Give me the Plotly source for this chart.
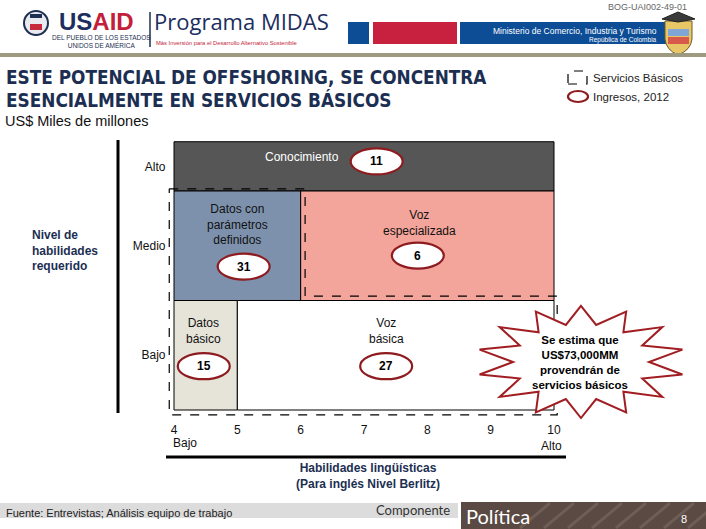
import numpy as np
import plotly.graph_objects as go

W, H = 706, 529

# ---------------- data ----------------
segments = ["Conocimiento", "Datos con<br>parámetros<br>definidos", "Voz<br>especializada",
            "Datos<br>básico", "Voz<br>básica"]
ingresos_2012 = [11, 31, 6, 15, 27]
lang_start = [4, 4, 6, 4, 5]
lang_end = [10, 6, 10, 5, 10]
skill_level = ["Alto", "Medio", "Medio", "Bajo", "Bajo"]
skill_ticks = ["Bajo", "Medio", "Alto"]
lang_ticks = [4, 5, 6, 7, 8, 9, 10]

# ---------------- layout helpers ----------------
def PX(x):
    return x / W


def PY(y):
    return 1 - y / H


FONT = "Liberation Sans, Arial, sans-serif"
NAVY = "#1c2f52"
DARKRED = "#8e1b1f"

annotations = []
shapes = []


def ann(x, y, text, size, color="#111", xanchor="center", family=FONT, align="center",
        xref="paper", yref="paper", yanchor="middle", xshift=0):
    if xref == "paper":
        x = PX(x)
    if yref == "paper":
        y = PY(y)
    annotations.append(dict(x=x, y=y, xref=xref, yref=yref, text=text, showarrow=False,
                            xanchor=xanchor, yanchor=yanchor, align=align, xshift=xshift,
                            font=dict(family=family, size=size, color=color)))


def prect(x0, y0, x1, y1, fill, line=None, layer="above"):
    shapes.append(dict(type="rect", xref="paper", yref="paper", x0=PX(x0), x1=PX(x1),
                       y0=PY(y1), y1=PY(y0), fillcolor=fill, layer=layer,
                       line=line if line else dict(width=0)))


band = {"Bajo": (0.0, 1.0), "Medio": (1.0, 2.0), "Alto": (2.0, 2.45)}
fills = ["#565656", "#7d91ad", "#f4a59b", "#e6e4d9", "#ffffff"]
label_colors = ["white", "#111111", "#111111", "#111111", "#111111"]
# label / bubble anchors (data units)
label_xy = [(6.02, 2.31), (5.01, 1.69), (7.88, 1.71), (4.47, 0.72), (7.35, 0.72)]
bubble_xy = [(7.20, 2.27), (5.10, 1.31), (7.85, 1.41), (4.47, 0.40), (7.35, 0.40)]

# axis geometry (pixels per unit) so that x=4..10 spans 174..554 px, y=0..2.45 spans 410..142 px
PPX = 380 / 6.0
PPY = 109.5
XR = [3.85, 10.15]
YR = [-0.08, 2.47]

fig = go.Figure()

# cells
for i, seg in enumerate(segments):
    y0, y1 = band[skill_level[i]]
    x0, x1 = lang_start[i], lang_end[i]
    fig.add_trace(go.Scatter(
        x=[x0, x1, x1, x0, x0], y=[y0, y0, y1, y1, y0],
        mode="lines", fill="toself", fillcolor=fills[i],
        line=dict(color="black", width=1), hoverinfo="skip", showlegend=False))

# Servicios básicos outline (Medio 4-6 + Bajo 4-10), drawn slightly outside the cells
sx = [4 - 0.075, 6 + 0.07, 6 + 0.07, 10 + 0.05, 10 + 0.05, 4 - 0.075, 4 - 0.075]
sy = [2.02, 2.02, 1.04, 1.04, -0.045, -0.045, 2.02]
fig.add_trace(go.Scatter(x=sx, y=sy, mode="lines",
                         line=dict(color="black", width=1.2, dash="dash"),
                         hoverinfo="skip", showlegend=False))

# segment labels and revenue bubbles
for i, seg in enumerate(segments):
    lx, ly = label_xy[i]
    ann(lx, ly, seg, 12, label_colors[i], xref="x", yref="y")
    bx, by = bubble_xy[i]
    shapes.append(dict(type="circle", xref="x", yref="y", xsizemode="pixel", ysizemode="pixel",
                       xanchor=bx, yanchor=by, x0=-26, x1=26, y0=-13, y1=13,
                       line=dict(color=DARKRED, width=2.2), fillcolor="white", layer="above"))
    ann(bx, by, "<b>%d</b>" % ingresos_2012[i], 12, "black", xref="x", yref="y")

# axis lines
shapes.append(dict(type="line", xref="paper", yref="paper", x0=PX(118), x1=PX(118),
                   y0=PY(140), y1=PY(413), line=dict(color="black", width=3)))
shapes.append(dict(type="line", xref="paper", yref="paper", x0=PX(166), x1=PX(566),
                   y0=PY(457), y1=PY(457), line=dict(color="black", width=3)))

# axis annotations
ann(4, 443, "Bajo", 12, xref="x", xanchor="left", xshift=-3)
ann(10, 446, "Alto", 12, xref="x", xanchor="right", xshift=10)
ann(30, 250, "<b>Nivel de<br>habilidades<br>requerido</b>", 12, NAVY, xanchor="left", align="left")
ann(368, 476, "<b>Habilidades lingüísticas<br>(Para inglés Nivel Berlitz)</b>", 12, NAVY)

# starburst callout
cx, cy = 581, 362
n = 14
ang = np.linspace(-np.pi / 2, 3 * np.pi / 2, 2 * n, endpoint=False)
rx = np.where(np.arange(2 * n) % 2 == 0, 104, 68)
ry = np.where(np.arange(2 * n) % 2 == 0, 56, 38)
ptsx = cx + rx * np.cos(ang)
ptsy = cy + ry * np.sin(ang)
path = "M " + " L ".join("%.4f,%.4f" % (PX(a), PY(b)) for a, b in zip(ptsx, ptsy)) + " Z"
shapes.append(dict(type="path", xref="paper", yref="paper", path=path,
                   fillcolor="white", line=dict(color="#a11d22", width=2)))
ann(580, 362, "<b>Se estima que<br>US$73,000MM<br>provendrán de<br>servicios básicos</b>", 11.5, "black")

# ---------------- header ----------------
# USAID seal
shapes.append(dict(type="circle", xref="paper", yref="paper", x0=PX(24), x1=PX(48),
                   y0=PY(35), y1=PY(11), line=dict(color=NAVY, width=2), fillcolor="#e8eaf0"))
prect(30, 14, 42, 18, NAVY)
prect(30, 24, 42, 30, "#c8283c")
ann(57, 21, "<b><span style='color:#1c2d5e'>US</span><span style='color:#c41e3a'>AID</span></b>",
    24, xanchor="left")
ann(101, 42, "DEL PUEBLO DE LOS ESTADOS<br>UNIDOS DE AMÉRICA", 6.5, NAVY)
shapes.append(dict(type="line", xref="paper", yref="paper", x0=PX(150), x1=PX(150),
                   y0=PY(12), y1=PY(47), line=dict(color=NAVY, width=1.5)))
ann(152, 21, "Programa MIDAS", 22, "#1c2d5e", xanchor="left", family="Open Sans, sans-serif")
ann(154, 43, "Más Inversión para el Desarrollo Alternativo Sostenible", 5.8, "#c41e3a", xanchor="left")
prect(348, 22, 369, 44, "#0c4d96", layer="below")
prect(373, 22, 457, 44, "#c8203f", layer="below")
prect(460, 22, 672, 44, "#0c4d96", layer="below")
ann(659, 31, "Ministerio de Comercio, Industria y Turismo", 8.5, "white", xanchor="right")
ann(659, 40, "República de Colombia", 6.5, "white", xanchor="right")
# coat of arms (simplified)
shapes += [
    dict(type="path", xref="paper", yref="paper",
         path="M %f,%f L %f,%f L %f,%f Q %f,%f %f,%f Q %f,%f %f,%f Z" % (
             PX(665), PY(21), PX(692), PY(21), PX(692), PY(39), PX(691), PY(50), PX(678), PY(55),
             PX(666), PY(50), PX(665), PY(39)),
         fillcolor="#e7c766", line=dict(color="#6d5a24", width=1)),
    dict(type="path", xref="paper", yref="paper",
         path="M %f,%f L %f,%f L %f,%f L %f,%f Z" % (PX(662), PY(19), PX(678), PY(12),
                                                      PX(695), PY(19), PX(678), PY(22)),
         fillcolor="#3a3a3a", line=dict(color="#222", width=1)),
]
prect(668, 29, 689, 36, "#7fa6d6")
prect(668, 37, 689, 44, "#d75a4a")
ann(689, 7, "BOG-UAI002-49-01", 9, "#666", xanchor="right")
# header rule
shapes.append(dict(type="line", xref="paper", yref="paper", x0=0, x1=1, y0=PY(55), y1=PY(55),
                   line=dict(color="#9e9a80", width=4)))

# title, subtitle, legend
TITLE_FONT = "DejaVu Sans Condensed, Liberation Sans Narrow, Arial Narrow, sans-serif"
ann(4, 77, "<b>ESTE POTENCIAL DE OFFSHORING, SE CONCENTRA</b>", 18.8, NAVY, xanchor="left",
    family=TITLE_FONT)
ann(4, 100, "<b>ESENCIALMENTE EN SERVICIOS BÁSICOS</b>", 18.8, NAVY, xanchor="left",
    family=TITLE_FONT)
ann(3, 121, "US$ Miles de millones", 14.5, "#111", xanchor="left")
shapes += [
    dict(type="rect", xref="paper", yref="paper", x0=PX(568), x1=PX(587), y0=PY(84), y1=PY(71),
         line=dict(color="black", width=1.2, dash="dash"), fillcolor="white"),
    dict(type="circle", xref="paper", yref="paper", x0=PX(568), x1=PX(588), y0=PY(102), y1=PY(91),
         line=dict(color=DARKRED, width=2.2), fillcolor="white"),
]
ann(591, 78, "Servicios Básicos", 11.5, "#222", xanchor="left")
ann(591, 97, "Ingresos, 2012", 11.5, "#222", xanchor="left")

# ---------------- footer ----------------
prect(0, 503, 458, 518, "#dcdcdc", layer="below")
prect(461, 502, 706, 529, "#5a4a43", layer="below")
for k in range(8):
    x0 = 520 + k * 24
    shapes.append(dict(type="line", xref="paper", yref="paper", x0=PX(x0), x1=PX(x0 + 30),
                       y0=PY(528), y1=PY(503), line=dict(color="rgba(150,130,120,0.35)", width=3)))
ann(4, 513, "Fuente: Entrevistas; Análisis equipo de trabajo", 11, "#222", xanchor="left")
ann(452, 510, "Componente", 13, "#333", xanchor="right", family="Lato, sans-serif")
ann(464, 516, "Política", 20, "white", xanchor="left", family="Lato, sans-serif")
ann(684, 519, "8", 11, "white")

fig.update_layout(
    width=W, height=H, margin=dict(l=0, r=0, t=0, b=0),
    paper_bgcolor="white", plot_bgcolor="white", showlegend=False,
    shapes=shapes, annotations=annotations,
    xaxis=dict(domain=[PX(174 + (XR[0] - 4) * PPX), PX(174 + (XR[1] - 4) * PPX)], range=XR,
               tickvals=lang_ticks, ticktext=[str(t) for t in lang_ticks],
               showgrid=False, zeroline=False, showline=False, ticks="", ticklabelstandoff=2,
               tickfont=dict(family=FONT, size=12, color="#111")),
    yaxis=dict(domain=[PY(410 - YR[0] * PPY), PY(410 - YR[1] * PPY)], range=YR,
               tickvals=[sum(band[s]) / 2 for s in skill_ticks], ticktext=skill_ticks,
               showgrid=False, zeroline=False, showline=False, ticks="", ticklabelstandoff=-2,
               tickfont=dict(family=FONT, size=12, color="#111")),
)

fig.write_html("out.html", post_script="document.body.style.margin='0';",
               config={"displayModeBar": False})
